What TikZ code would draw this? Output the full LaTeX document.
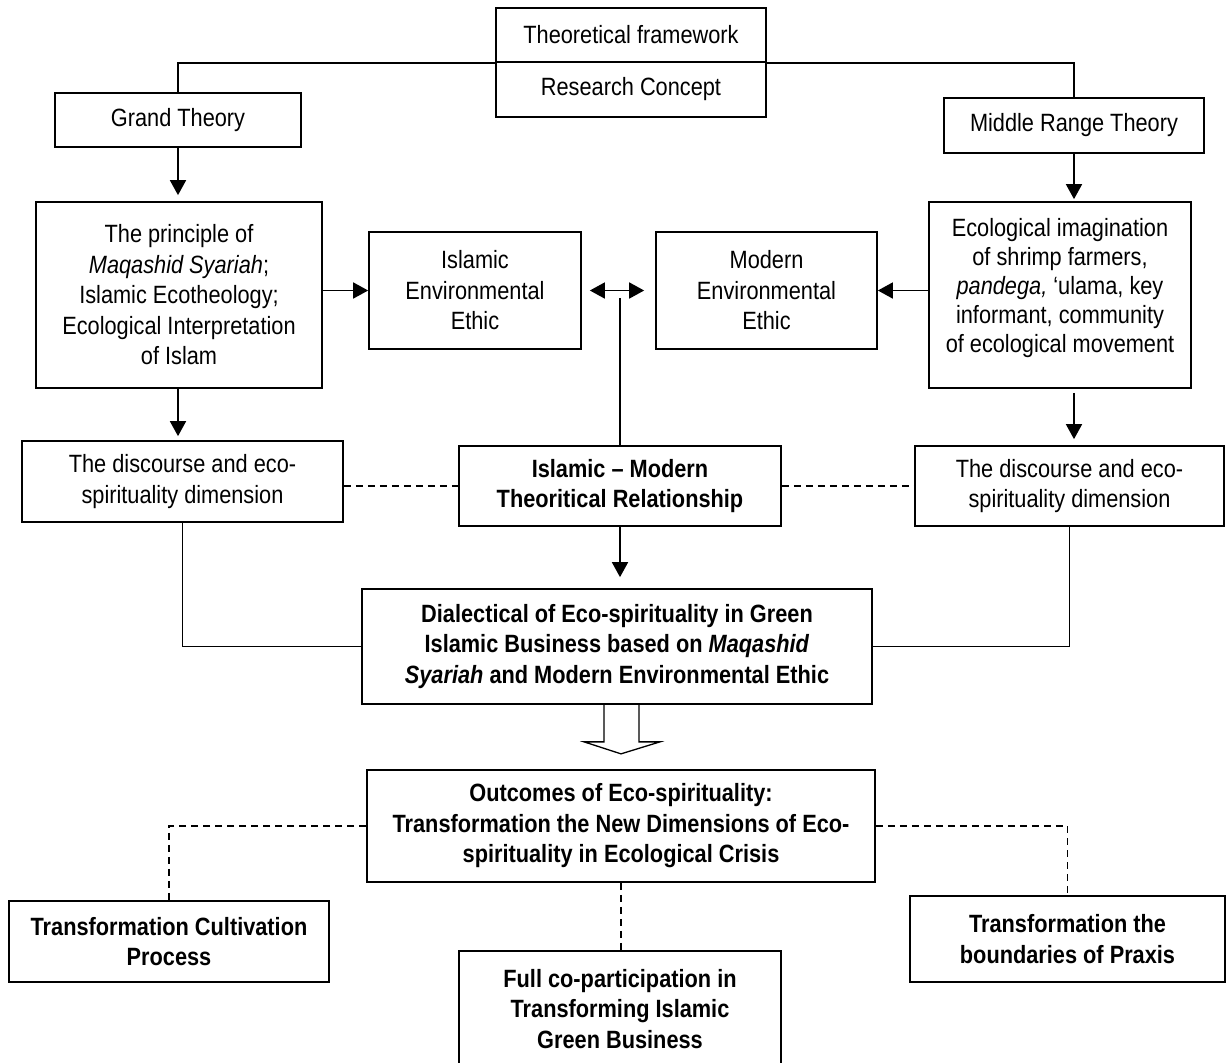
\documentclass[tikz,border=0pt]{standalone}
\usepackage{fontspec}
\setmainfont[FakeStretch=0.87]{Liberation Sans}
\usetikzlibrary{positioning, arrows.meta, calc}

\begin{document}
\begin{tikzpicture}[x=1pt, y=-1pt, line width=1.7pt,
	box/.style={draw, align=center, inner sep=0pt, font=\fontsize{25}{30.5}\selectfont},
	bbox/.style={box, font=\fontsize{25}{30.5}\selectfont\bfseries},
	conn/.style={-{Triangle[length=15pt,width=16pt]}, shorten >=5pt},
	dashline/.style={line width=1.4pt, dash pattern=on 7pt off 5pt}]
	
	\useasboundingbox (0,0) rectangle (1227,1063);
	\clip (0,0) rectangle (1227,1063);
	
	%Framework on top
	\node (theoFrame) at (631,35) [box, minimum width=270pt, minimum height=54pt]{Theoretical framework};
	\node (resConcept) at (631,89.5) [box, minimum width=270pt, minimum height=55pt]{Research Concept};
	
	%The two theories
	\node (grandTheory) at (178,120) [box, minimum width=246pt, minimum height=54pt]{Grand Theory};
	\node (middleTheory) at (1074,125.5) [box, minimum width=260pt, minimum height=55pt]{Middle Range Theory};
	
	\draw[line width=1.4pt] (grandTheory.north) |- (theoFrame.south west);
	\draw[line width=1.4pt] (theoFrame.south east) -| (middleTheory.north);
	
	%Second row
	\node (principle) at (179,295) [box, minimum width=286pt, minimum height=186pt]{The principle of\\
		\textit{Maqashid Syariah};\\Islamic Ecotheology;\\Ecological Interpretation\\of Islam};
	\node (islamicEthic) at (475,290.5) [box, minimum width=212pt, minimum height=117pt]{Islamic\\Environmental\\Ethic};
	\node (modernEthic) at (766.5,290.5) [box, minimum width=221pt, minimum height=117pt]{Modern\\Environmental\\Ethic};
	\node (imagination) at (1060,295) [box, minimum width=262pt, minimum height=186pt,
		font=\fontsize{25}{29}\selectfont]{Ecological imagination\\
		of shrimp farmers,\\\textit{pandega,} ‘ulama, key\\informant, community\\of ecological movement\\[-10pt]};
	
	\draw[conn, shorten >=6pt] (grandTheory.south) -- (grandTheory.south |- principle.north);
	\draw[conn, shorten >=2pt] (middleTheory.south) -- (middleTheory.south |- imagination.north);
	\draw[conn, shorten >=0pt] (principle.east |- islamicEthic.west) -- (islamicEthic.west);
	\draw[conn, shorten >=0pt] (imagination.west |- modernEthic.east) -- (modernEthic.east);
	
	%Double arrow between the ethics
	\draw[{Triangle[length=15pt,width=16pt]}-{Triangle[length=15pt,width=16pt]}, shorten <=8pt, shorten >=11pt]
		(islamicEthic.east) -- (modernEthic.west);
	
	%Third row
	\node (discourseL) at (182.5,481.5) [box, minimum width=321pt, minimum height=81pt]{The discourse and eco-\\spirituality dimension};
	\node (relation) at (620,486) [bbox, minimum width=322pt, minimum height=80pt]{Islamic -- Modern\\Theoritical Relationship};
	\node (discourseR) at (1069.5,486) [box, minimum width=309pt, minimum height=80pt]{The discourse and eco-\\spirituality dimension};
	
	\coordinate (relTop) at (620,298);
	\draw (relation.north) -- (relTop);
	
	\draw[conn, shorten >=4pt] (principle.south -| grandTheory.south) -- (discourseL.north -| grandTheory.south);
	\draw[conn, shorten <=4pt, shorten >=6pt] (imagination.south -| middleTheory.south) -- (discourseR.north -| middleTheory.south);
	
	\draw[dashline] (discourseL.east |- relation.west) -- (relation.west);
	\draw[dashline] (relation.east) -- (relation.east -| discourseR.west);
	
	%Dialectical box
	\node (dialectic) at (617,646.5) [bbox, minimum width=510pt, minimum height=115pt]{Dialectical of Eco-spirituality in Green\\
		Islamic Business based on \textit{Maqashid}\\\textit{Syariah} and Modern Environmental Ethic};
	
	\draw[conn, shorten >=11pt] (relation.south) -- (relation.south |- dialectic.north);
	\draw[line width=1.4pt] (discourseL.south) |- (dialectic.west);
	\draw[line width=1.4pt] (discourseR.south) |- (dialectic.east);
	
	%Hollow arrow
	\draw[line width=1.3pt] (dialectic.south) ++(-13,0) -- ++(0,37) -- ++(-20,0) -- ++(37,12) -- ++(39,-12)
		-- ++(-21,0) -- ++(0,-37);
	
	%Outcomes
	\node (outcomes) at (621,826) [bbox, minimum width=508pt, minimum height=112pt]{Outcomes of Eco-spirituality:\\
		Transformation the New Dimensions of Eco-\\spirituality in Ecological Crisis};
	
	\node (cultivation) at (169,941.5) [bbox, minimum width=320pt, minimum height=81pt]{Transformation Cultivation\\Process};
	\node (coPart) at (620,1009) [bbox, minimum width=322pt, minimum height=116pt]{Full co-participation in\\
		Transforming Islamic\\Green Business};
	\node (praxis) at (1067.5,939) [bbox, minimum width=315pt, minimum height=86pt]{Transformation the\\boundaries of Praxis};
	
	\draw[dashline] (outcomes.west) -| (cultivation.north);
	\draw[dashline] (outcomes.south) -- (outcomes.south |- coPart.north);
	\draw[dashline] (outcomes.east) -| (praxis.north);
	
\end{tikzpicture}
\end{document}
